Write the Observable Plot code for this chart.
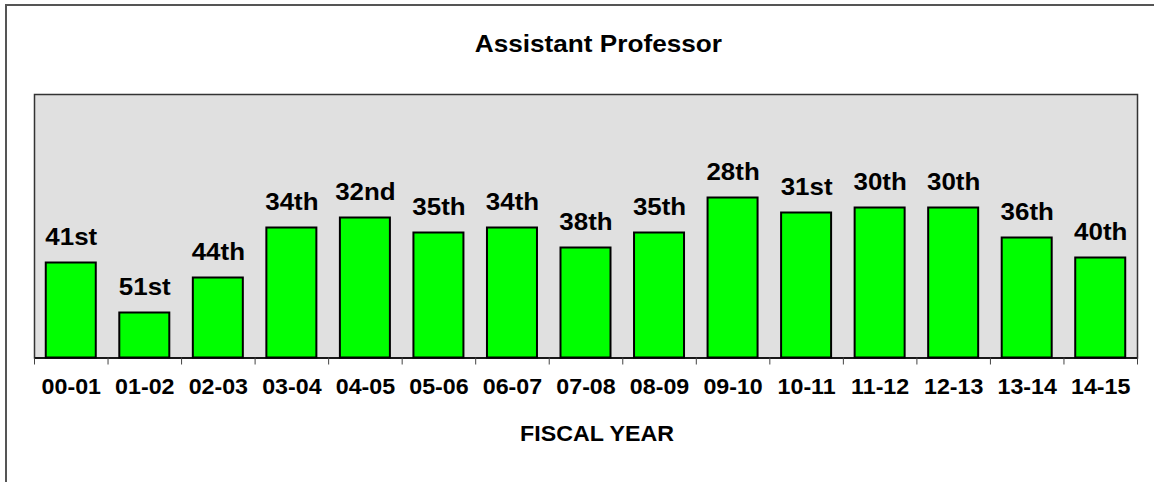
<!DOCTYPE html>
<html>
<head>
<meta charset="utf-8">
<script src="https://cdn.jsdelivr.net/npm/d3@7"></script>
<script src="https://cdn.jsdelivr.net/npm/@observablehq/plot@0.6"></script>
<style>
  html, body { margin: 0; padding: 0; background: #fff; }
  #wrap { position: relative; width: 1154px; height: 482px; overflow: hidden; font-family: "Liberation Sans", Arial, sans-serif; }
  #border { position: absolute; left: 5px; top: 4px; width: 1200px; height: 600px; border-left: 2px solid #555; border-top: 2px solid #555; }
  #title { position: absolute; left: 0; width: 1154px; top: 30px; text-align: center; font-weight: bold; font-size: 24px; line-height: 28px; padding-left: 42px; box-sizing: border-box; color: #000; }
  #title span { display: inline-block; transform: scaleX(1.09); transform-origin: center; }
  #chart { position: absolute; left: 0; top: 70px; }
</style>
</head>
<body>
<div id="wrap">
  <div id="border"></div>
  <div id="title"><span>Assistant Professor</span></div>
  <div id="chart"></div>
</div>
<script>
const years = ["00-01","01-02","02-03","03-04","04-05","05-06","06-07","07-08","08-09","09-10","10-11","11-12","12-13","13-14","14-15"];
const ranks = [41, 51, 44, 34, 32, 35, 34, 38, 35, 28, 31, 30, 30, 36, 40];
const rankLabels = ["41st","51st","44th","34th","32nd","35th","34th","38th","35th","28th","31st","30th","30th","36th","40th"];
const baseRank = 60;
const topRank = 7.3;
const xTitle = "FISCAL YEAR";

const data = years.map((y, i) => ({year: y, rank: ranks[i], label: rankLabels[i]}));

const W = 1154, H = 412;
const mL = 34, mR = 17;
const step = (W - mL - mR) / years.length;

const chart = Plot.plot({
  width: W,
  height: H,
  marginTop: 24,
  marginBottom: 124.5,
  marginLeft: mL,
  marginRight: mR,
  style: {fontFamily: '"Liberation Sans", Arial, sans-serif', fontWeight: "bold", fontSize: "21.5px", color: "#000", background: "transparent"},
  x: {domain: years, paddingInner: 0.32, paddingOuter: 0.16, round: false, label: null},
  y: {domain: [baseRank, topRank], axis: null},
  marks: [
    Plot.frame({fill: "#e0e0e0", stroke: "#333", strokeWidth: 1.5}),
    Plot.barY(data, {x: "year", y1: baseRank, y2: "rank", fill: "#00ff00", stroke: "#000", strokeWidth: 2}),
    Plot.text(data, {x: "year", y: "rank", text: "label", dy: -26, fontSize: 24, fontWeight: "bold", fill: "#000", lineAnchor: "middle"}),
    Plot.ruleY([baseRank], {stroke: "#000", strokeWidth: 1.5}),
    Plot.ruleX(data, {x: "year", y1: baseRank, y2: baseRank, dx: -step / 2, insetBottom: -7, stroke: "#444", strokeWidth: 1}),
    Plot.ruleX(data.slice(-1), {x: "year", y1: baseRank, y2: baseRank, dx: step / 2, insetBottom: -7, stroke: "#444", strokeWidth: 1}),
    Plot.axisX({tickSize: 0, tickPadding: 20.5, fontSize: 21.5, fontWeight: "bold", label: null}),
    Plot.text([xTitle], {frameAnchor: "bottom", dy: 75.8, dx: 11, fontSize: 21.5, fontWeight: "bold", fill: "#000", lineAnchor: "middle"})
  ]
});
document.getElementById("chart").appendChild(chart);
// widen glyphs slightly to match the reference's horizontally stretched type
chart.querySelectorAll("text").forEach(t => {
  const len = t.getComputedTextLength();
  if (len > 0) {
    t.setAttribute("textLength", (len * 1.08).toFixed(2));
    t.setAttribute("lengthAdjust", "spacingAndGlyphs");
  }
});
</script>
</body>
</html>
